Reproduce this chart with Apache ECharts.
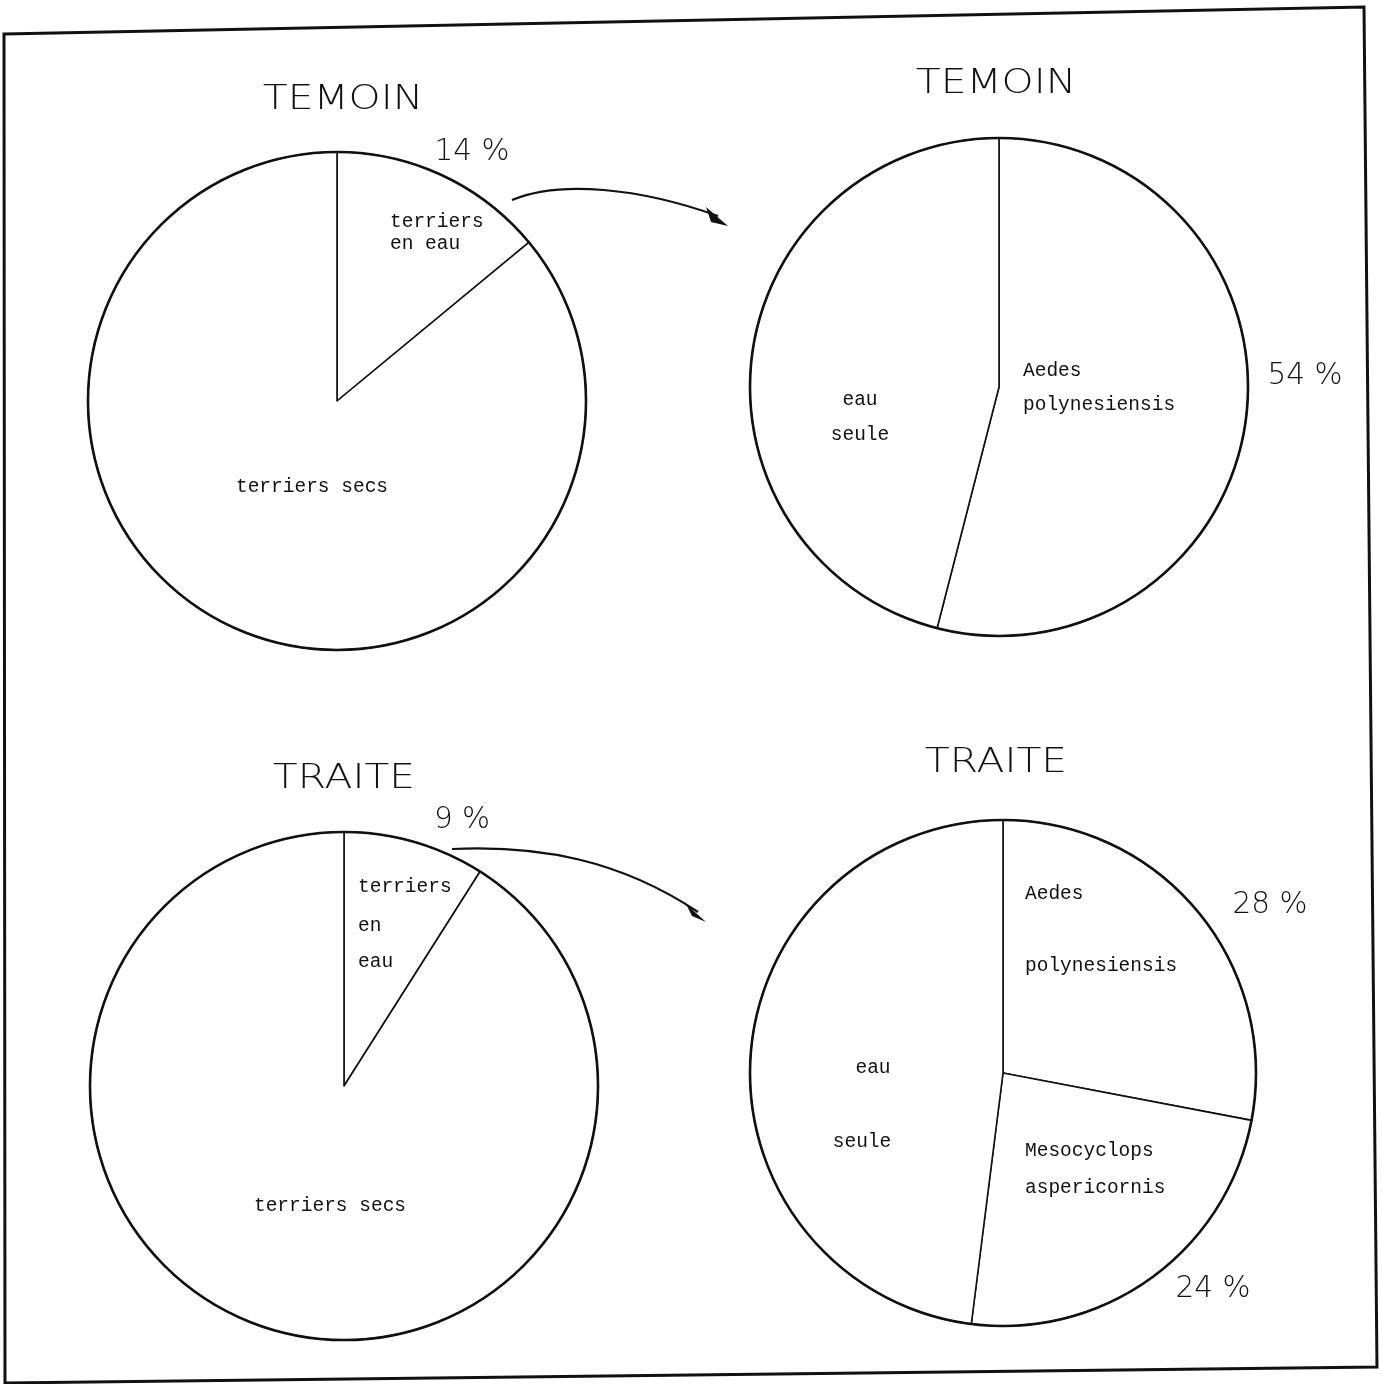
<!DOCTYPE html>
<html><head><meta charset="utf-8">
<script src="https://cdn.jsdelivr.net/npm/echarts@6/dist/echarts.min.js"></script>
<style>html,body{margin:0;padding:0;background:#fff}#c{width:1382px;height:1384px}</style>
</head><body><div id="c"></div>
<script>
// ---- data ----
const titles = ["TEMOIN", "TEMOIN", "TRAITE", "TRAITE"];
const pie1Names = ["terriers en eau", "terriers secs"];
const pie1Values = [14, 86];
const pie2Names = ["Aedes polynesiensis", "eau seule"];
const pie2Values = [54, 46];
const pie3Names = ["terriers en eau", "terriers secs"];
const pie3Values = [9, 91];
const pie4Names = ["Aedes polynesiensis", "Mesocyclops aspericornis", "eau seule"];
const pie4Values = [28, 24, 48];
const pctLabels = ["14 %", "54 %", "9 %", "28 %", "24 %"];

// ---- layout ----
const pies = [
  {c: [337, 401], r: 249, names: pie1Names, vals: pie1Values},
  {c: [999, 387], r: 249, names: pie2Names, vals: pie2Values},
  {c: [344, 1086], r: 254, names: pie3Names, vals: pie3Values},
  {c: [1003, 1073], r: 253, names: pie4Names, vals: pie4Values}
];
const series = [];
pies.forEach(p => {
  series.push({
    type: 'pie', center: p.c, radius: [0, p.r], startAngle: 90, clockwise: true,
    silent: true, label: {show: false}, labelLine: {show: false},
    itemStyle: {color: '#fff', borderColor: '#111', borderWidth: 1.6},
    data: p.names.map((n, i) => ({name: n, value: p.vals[i]}))
  });
  series.push({
    type: 'pie', center: p.c, radius: [0, p.r], silent: true, z: 3,
    label: {show: false}, labelLine: {show: false},
    itemStyle: {color: 'rgba(0,0,0,0)', borderColor: '#111', borderWidth: 2.6},
    data: [{value: 1}]
  });
});

const TF = '"DejaVu Sans", sans-serif';
const MF = '"Liberation Mono", "DejaVu Sans Mono", monospace';
function title(txt, x, y) {
  return {type: 'text', x: x, y: y, scaleX: 1.2, z: 10,
    style: {text: txt, font: '300 34px ' + TF, fill: '#111', textAlign: 'center', textVerticalAlign: 'middle'}};
}
function pct(txt, x, y) {
  return {type: 'text', x: x, y: y, scaleX: 0.95, z: 10,
    style: {text: txt, font: '300 31px ' + TF, fill: '#111', textAlign: 'center', textVerticalAlign: 'middle'}};
}
function mono(txt, x, y, align) {
  return {type: 'text', x: x, y: y, z: 10,
    style: {text: txt, font: '19.5px ' + MF, fill: '#111', textAlign: align || 'left', textVerticalAlign: 'middle'}};
}
function arrow(x1, y1, cx1, cy1, cx2, cy2, x2, y2, head) {
  return [
    {type: 'bezierCurve', z: 10, shape: {x1: x1, y1: y1, cpx1: cx1, cpy1: cy1, cpx2: cx2, cpy2: cy2, x2: x2, y2: y2},
      style: {stroke: '#111', lineWidth: 2.2, fill: null}},
    {type: 'polygon', z: 10, shape: {points: head}, style: {fill: '#111'}}
  ];
}

const graphics = [
  {type: 'polygon', z: 1, shape: {points: [[4, 34], [1364, 7], [1377, 1367], [5, 1383]]},
    style: {fill: null, stroke: '#111', lineWidth: 3}},
  title(titles[0], 343, 100),
  title(titles[1], 996, 84),
  title(titles[2], 344, 779),
  title(titles[3], 996, 763),
  pct(pctLabels[0], 472, 152),
  pct(pctLabels[1], 1305, 376),
  pct(pctLabels[2], 462, 820),
  pct(pctLabels[3], 1270, 905),
  pct(pctLabels[4], 1213, 1289),
  mono('terriers', 390, 222),
  mono('en eau', 390, 244),
  mono('terriers secs', 312, 487, 'center'),
  mono('eau', 860, 400, 'center'),
  mono('seule', 860, 435, 'center'),
  mono('Aedes', 1023, 371),
  mono('polynesiensis', 1023, 405),
  mono('terriers', 358, 887),
  mono('en', 358, 926),
  mono('eau', 358, 962),
  mono('terriers secs', 330, 1206, 'center'),
  mono('Aedes', 1025, 894),
  mono('polynesiensis', 1025, 966),
  mono('eau', 873, 1068, 'center'),
  mono('seule', 862, 1142, 'center'),
  mono('Mesocyclops', 1025, 1151),
  mono('aspericornis', 1025, 1188),
  ...arrow(512, 200, 560, 180, 640, 188, 718, 216, [[706, 207], [728, 226], [711, 222]]),
  ...arrow(452, 849, 540, 845, 620, 860, 698, 912, [[686, 904], [706, 922], [692, 916]])
];

const chart = echarts.init(document.getElementById('c'), null, {renderer: 'canvas'});
chart.setOption({
  backgroundColor: '#fff',
  animation: false,
  series: series,
  graphic: graphics
});
</script>
</body></html>
